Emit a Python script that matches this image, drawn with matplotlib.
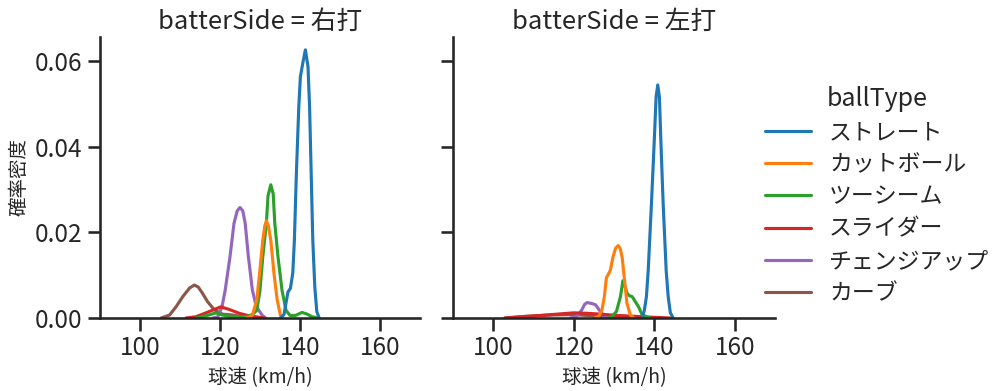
import matplotlib
matplotlib.use("Agg")
import matplotlib.pyplot as plt
import seaborn as sns

sns.set_context("talk")
sns.set_style("ticks")
plt.rcParams['font.family'] = ['Noto Sans CJK JP', 'DejaVu Sans']

ball_types = ['ストレート', 'カットボール', 'ツーシーム', 'スライダー', 'チェンジアップ', 'カーブ']
colors = ['#1f77b4', '#ff7f0e', '#2ca02c', '#d62728', '#9467bd', '#8c564b']
sides = ['右打', '左打']

# density curves: (speed, density)
right_x = {
    'ストレート': [135.1, 136.0, 136.5, 137.0, 137.6, 138.2, 138.6, 139.1, 139.7, 140.1, 140.7, 141.35, 142.0, 142.4, 142.8, 143.2, 143.7, 144.2, 144.8],
    'カットボール': [126.4, 127.3, 128.1, 129.2, 129.9, 130.7, 131.2, 131.6, 132.1, 132.7, 133.5, 134.3, 135.1, 135.6],
    'ツーシーム': [114.0, 116.5, 119.0, 120.6, 123.1, 126.4, 128.1, 129.2, 130.0, 130.7, 131.6, 132.0, 132.7, 133.3, 133.7, 134.5, 135.5, 136.5, 137.5, 138.9, 140.5, 141.8, 143.0, 144.7],
    'スライダー': [111.5, 114.0, 116.5, 118.6, 120.2, 122.3, 124.8, 127.3, 131.0],
    'チェンジアップ': [118.2, 119.4, 120.5, 121.3, 122.5, 123.5, 124.3, 125.0, 125.7, 126.3, 127.1, 128.1, 129.1, 130.6, 131.4],
    'カーブ': [105.3, 107.4, 109.0, 110.7, 112.4, 113.6, 114.6, 115.6, 116.9, 118.6, 120.6, 123.1, 125.6, 126.9],
}
right_y = {
    'ストレート': [0, 0.0008, 0.0035, 0.0061, 0.0069, 0.0105, 0.0182, 0.0338, 0.0493, 0.0563, 0.0595, 0.0626, 0.0587, 0.0493, 0.0338, 0.0182, 0.0073, 0.0015, 0],
    'カットボール': [0, 0.0002, 0.0007, 0.0042, 0.0104, 0.0182, 0.0215, 0.0227, 0.0215, 0.0182, 0.0104, 0.0042, 0.0007, 0],
    'ツーシーム': [0, 0.0005, 0.0012, 0.0007, 0.0003, 0.0003, 0.0008, 0.0018, 0.0065, 0.0143, 0.0221, 0.0285, 0.0311, 0.0290, 0.0221, 0.0143, 0.0065, 0.0018, 0.0006, 0.0006, 0.0013, 0.0009, 0.0003, 0],
    'スライダー': [0, 0.0003, 0.0012, 0.002, 0.0026, 0.002, 0.0011, 0.0005, 0],
    'チェンジアップ': [0, 0.0002, 0.0026, 0.0065, 0.0143, 0.0221, 0.0250, 0.0258, 0.0250, 0.0221, 0.0143, 0.0065, 0.0026, 0.0006, 0],
    'カーブ': [0, 0.0007, 0.0026, 0.005, 0.0070, 0.0077, 0.0072, 0.0058, 0.0038, 0.0019, 0.0009, 0.0007, 0.0003, 0],
}
left_x = {
    'ストレート': [137.0, 137.55, 138.05, 138.5, 139.3, 140.04, 140.45, 140.86, 141.28, 141.6, 142.2, 142.95, 143.45, 144.0, 144.7],
    'カットボール': [125.1, 126.2, 127.0, 127.6, 128.1, 128.7, 129.1, 129.75, 130.4, 131.0, 131.5, 132.0, 132.6, 133.2, 134.05, 134.9],
    'ツーシーム': [128.7, 129.5, 130.6, 131.6, 132.2, 132.7, 133.2, 133.8, 134.5, 135.3, 136.1, 137.0, 139.0],
    'スライダー': [102.9, 107.5, 111.7, 115.8, 120.0, 123.3, 126.6, 130.7, 134.9, 139.0, 144.0],
    'チェンジアップ': [119.1, 120.4, 121.2, 122.0, 122.7, 123.3, 124.4, 125.4, 126.6, 127.8, 129.1],
    'カーブ': [102.9, 108.0, 115.0, 120.0, 125.0, 130.0, 135.0],
}
left_y = {
    'ストレート': [0, 0.0019, 0.005, 0.0112, 0.0268, 0.0423, 0.0516, 0.0544, 0.0516, 0.0423, 0.0268, 0.0112, 0.005, 0.0012, 0],
    'カットボール': [0, 0.0004, 0.0019, 0.005, 0.0094, 0.0104, 0.0112, 0.0143, 0.0163, 0.0169, 0.0163, 0.0143, 0.0089, 0.0035, 0.0007, 0],
    'ツーシーム': [0, 0.0004, 0.0015, 0.005, 0.0087, 0.0075, 0.0058, 0.0052, 0.005, 0.0038, 0.0026, 0.0007, 0],
    'スライダー': [0, 0.0003, 0.0006, 0.0009, 0.0012, 0.0011, 0.0009, 0.0006, 0.0004, 0.0002, 0],
    'チェンジアップ': [0, 0.0002, 0.0009, 0.0019, 0.0032, 0.0036, 0.0034, 0.0031, 0.0015, 0.0002, 0],
    'カーブ': [0, 0.0004, 0.0007, 0.0008, 0.0005, 0.0002, 0],
}

fig = plt.figure(figsize=(9.99, 3.91), dpi=100)
ax1 = fig.add_axes([0.1001, 0.1867, 0.3203, 0.7187])
ax2 = fig.add_axes([0.4535, 0.1867, 0.3223, 0.7187], sharey=ax1)

handles = []
for ax, side, xs, ys in [(ax1, sides[0], right_x, right_y), (ax2, sides[1], left_x, left_y)]:
    # seaborn draws the first hue on top
    for bt, c in reversed(list(zip(ball_types, colors))):
        ax.plot(xs[bt], ys[bt], color=c, lw=2.25, solid_joinstyle='round')
    ax.set_xlim(90, 170)
    ax.set_xticks([100, 120, 140, 160])
    ax.set_title(f'batterSide = {side}', fontsize=18.5)
    ax.set_xlabel('球速 (km/h)', fontsize=14)
    ax.tick_params(labelsize=17.5)
    sns.despine(ax=ax)

ax1.set_ylim(0, 0.0656)
ax1.set_yticks([0, 0.02, 0.04, 0.06])
ax1.set_yticklabels(['0.00', '0.02', '0.04', '0.06'])
ax1.set_ylabel('確率密度', fontsize=14)
ax2.tick_params(labelleft=False)

for bt, c in zip(ball_types, colors):
    handles.append(plt.Line2D([], [], color=c, lw=2.25))
leg = fig.legend(handles, ball_types, title='ballType', loc='center left',
                 bbox_to_anchor=(0.745, 0.5), frameon=False, fontsize=16.5,
                 title_fontsize=18, labelspacing=0.4)

fig.savefig('out.png', dpi=100)
